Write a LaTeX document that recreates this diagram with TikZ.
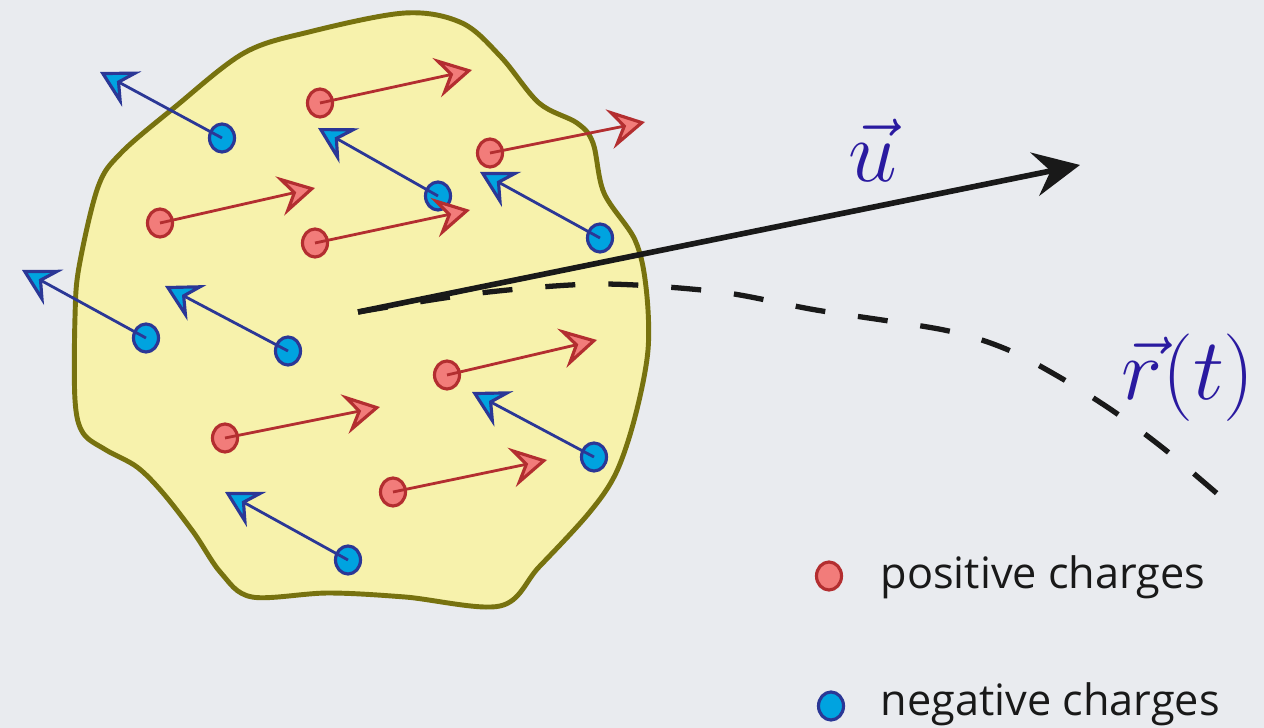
\documentclass[tikz,border=0pt]{standalone}
\usepackage{fontspec}
\setsansfont{Open Sans}
\usetikzlibrary{arrows.meta,shapes.geometric}
\definecolor{cbg}{HTML}{E9EBEF}
\definecolor{cblob}{HTML}{F7F2AC}
\definecolor{cblobedge}{HTML}{77720F}
\definecolor{cpos}{HTML}{F27C7A}
\definecolor{cposedge}{HTML}{B32E30}
\definecolor{cneg}{HTML}{00A3E0}
\definecolor{cnegedge}{HTML}{2B3796}
\definecolor{clabel}{HTML}{2A1AA0}
\tikzset{
 pchg/.style={ellipse, draw=cposedge, fill=cpos, line width=0.9pt,
 minimum width=2.5mm, minimum height=2.8mm, inner sep=0pt},
 nchg/.style={ellipse, draw=cnegedge, fill=cneg, line width=0.9pt,
 minimum width=2.5mm, minimum height=2.8mm, inner sep=0pt},
 vpos/.style={-{Stealth[length=3.6mm, width=4mm, inset=1.3mm, fill=cpos, line width=0.9pt]},
 draw=cposedge, line width=0.8pt},
 vneg/.style={-{Stealth[length=3.6mm, width=4mm, inset=1.3mm, fill=cneg, line width=0.9pt]},
 draw=cnegedge, line width=0.8pt},
 vel/.style={-{Stealth[length=4.6mm, width=4.4mm, inset=1.6mm]}, draw=black!90,
 line width=1.6pt},
 traj/.style={draw=black!90, line width=1.5pt, dash pattern=on 3mm off 3.3mm},
 mlbl/.style={text=clabel, inner sep=0pt, font=\fontsize{23}{27}\selectfont},
 legtext/.style={anchor=base west, inner sep=0pt, text=black!90,
 font=\sffamily\fontsize{12.3}{15}\selectfont},
}

\begin{document}
\begin{tikzpicture}[x=0.01cm, y=-0.01cm]
 \useasboundingbox[fill=cbg] (0,0) rectangle (1264,728);
 % body
 \draw[cblobedge, fill=cblob, line width=1.4pt] plot[smooth cycle, tension=0.55] coordinates {
 (405,13) (462,23) (501,57) (539,103) (577,123) (593,143) (604,193) (635,240)
 (646,287) (648,350) (635,417) (616,473) (589,513) (539,567) (500,606)
 (405,597) (328,593) (252,597) (221,573) (194,533) (163,493) (137,467)
 (106,450) (83,433) (75,400) (75,317) (79,267) (98,187) (121,153) (175,107)
 (244,53) (309,32)};
 % trajectory and velocity
 \coordinate (c) at (358,312);
 \coordinate (uend) at (1080,165);
 \draw[traj] plot[smooth] coordinates {(358,312) (480,293) (600,284) (720,292)
 (816,310) (944,330) (1006,349) (1061,378) (1116,413) (1168,452) (1228,503)};
 \draw[vel] (c) -- (uend);
 \node[mlbl] (u) at (873,150) {$\vec{u}$};
 \node[mlbl] (r) at (1188,378) {$\vec{r}(t)$};
 % negative charges
 \node[nchg] (n1) at (222,138) {};
 \node[nchg] (n2) at (438,196) {};
 \node[nchg] (n3) at (600,238) {};
 \node[nchg] (n4) at (146,338) {};
 \node[nchg] (n5) at (288,351) {};
 \node[nchg] (n6) at (594,457) {};
 \node[nchg] (n7) at (348,560) {};
 \coordinate (n1v) at (100,72);
 \coordinate (n2v) at (318,128);
 \coordinate (n3v) at (480,172);
 \coordinate (n4v) at (22,270);
 \coordinate (n5v) at (165,286);
 \coordinate (n6v) at (472,392);
 \coordinate (n7v) at (225,492);
 \draw[vneg] (n1.center) -- (n1v); \draw[vneg] (n2.center) -- (n2v);
 \draw[vneg] (n3.center) -- (n3v); \draw[vneg] (n4.center) -- (n4v);
 \draw[vneg] (n5.center) -- (n5v); \draw[vneg] (n6.center) -- (n6v);
 \draw[vneg] (n7.center) -- (n7v);
 % positive charges
 \node[pchg] (p1) at (320,103) {};
 \node[pchg] (p2) at (490,153) {};
 \node[pchg] (p3) at (160,223) {};
 \node[pchg] (p4) at (315,243) {};
 \node[pchg] (p5) at (447,375) {};
 \node[pchg] (p6) at (225,438) {};
 \node[pchg] (p7) at (393,492) {};
 \coordinate (p1v) at (472,70);
 \coordinate (p2v) at (645,122);
 \coordinate (p3v) at (315,188);
 \coordinate (p4v) at (470,210);
 \coordinate (p5v) at (597,340);
 \coordinate (p6v) at (380,407);
 \coordinate (p7v) at (547,460);
 \draw[vpos] (p1.center) -- (p1v); \draw[vpos] (p2.center) -- (p2v);
 \draw[vpos] (p3.center) -- (p3v); \draw[vpos] (p4.center) -- (p4v);
 \draw[vpos] (p5.center) -- (p5v); \draw[vpos] (p6.center) -- (p6v);
 \draw[vpos] (p7.center) -- (p7v);
 % legend
 \node[pchg] (lp) at (829,576) {};
 \node[nchg] (ln) at (831,706) {};
 \node[legtext] (lpt) at (880,588) {positive charges};
 \node[legtext] (lnt) at (880,715) {negative charges};
\end{tikzpicture}
\end{document}
